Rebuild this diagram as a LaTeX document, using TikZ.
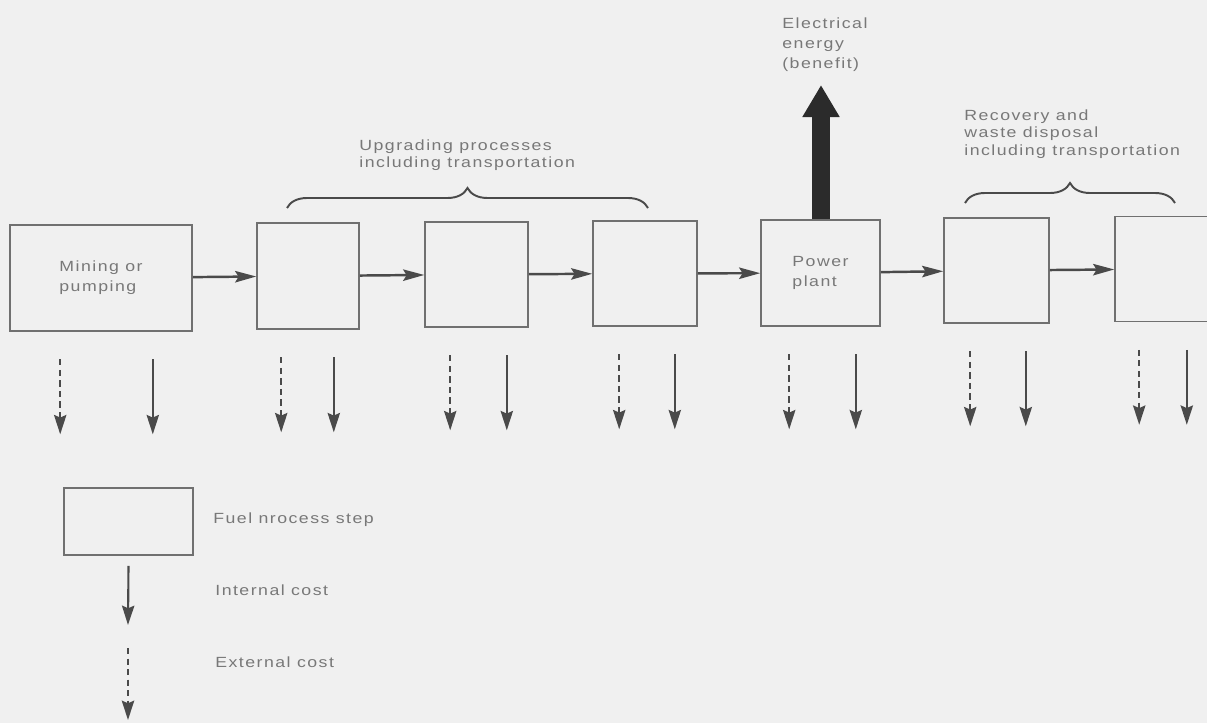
\documentclass[tikz,border=0pt]{standalone}
\usepackage{fontspec}
\setmainfont{Liberation Sans}
\newfontfamily\scanfont[FakeStretch=1.2,LetterSpace=10]{Liberation Sans}
\usepackage{tikz}
\usetikzlibrary{arrows.meta,positioning,calc,decorations.pathreplacing}
\definecolor{fcpaper}{HTML}{F0F0F0}
\definecolor{fcline}{HTML}{4A4A4A}
\definecolor{fcdark}{HTML}{2B2B2B}
\definecolor{fcbox}{HTML}{707070}
\definecolor{fctext}{HTML}{787878}

\begin{document}
\begin{tikzpicture}[
  stepbox/.style={rectangle,draw=fcbox,line width=0.9pt,inner sep=0pt,text=fctext,align=left,font=\scanfont\fontsize{8.4}{11.3}\selectfont},
  lab/.style={font=\scanfont\fontsize{8.4}{10.2}\selectfont,text=fctext,align=left,inner sep=0pt},
  flow/.style={draw=fcline,line width=1.4pt,-{Stealth[length=12pt,width=6.5pt,inset=2pt]}},
  intcost/.style={draw=fcline,line width=1.2pt,-{Stealth[length=11pt,width=7pt,inset=1.5pt]}},
  extcost/.style={intcost,dash pattern=on 3.5pt off 2.5pt},
  grp/.style={draw=fcline,line width=1.1pt,decorate,decoration={brace,amplitude=0.4cm}}]

  % paper
  \useasboundingbox (0,0) rectangle (24.14,-14.46);
  \fill[fcpaper] (0,0) rectangle (24.14,-14.46);
  \clip (0,0) rectangle (24.14,-14.46);

  % fuel chain
  \node[stepbox,minimum width=3.64cm,minimum height=2.12cm] (mine) at (2.02,-5.56) {Mining or\\pumping};
  \node[stepbox,minimum width=2.04cm,minimum height=2.12cm] (up1) at (6.16,-5.52) {};
  \node[stepbox,minimum width=2.06cm,minimum height=2.10cm] (up2) at (9.53,-5.49) {};
  \node[stepbox,minimum width=2.08cm,minimum height=2.10cm] (up3) at (12.90,-5.47) {};
  \node[stepbox,minimum width=2.38cm,minimum height=2.12cm] (pp) at (16.41,-5.46) {Power\\plant};
  \node[stepbox,minimum width=2.10cm,minimum height=2.10cm] (rec1) at (19.93,-5.41) {};
  \node[stepbox,minimum width=2.10cm,minimum height=2.10cm] (rec2) at (23.35,-5.38) {};

  \foreach \a/\b in {mine/up1,up1/up2,up2/up3,up3/pp,pp/rec1,rec1/rec2}
    \draw[flow] (\a) -- (\b);

  % costs below each step
  \foreach \b/\dl/\dr in {mine/1.02/-0.8,up1/0.5/-0.52,up2/0.52/-0.44,up3/0.54/-0.46,pp/0.58/-0.5,rec1/0.54/-0.48,rec2/0.5/-0.68}{
    \draw[extcost] ($(\b.south west)+(\dl,-0.55)$) -- ++(0,-1.5);
    \draw[intcost] ($(\b.south east)+(\dr,-0.55)$) -- ++(0,-1.5);
  }

  % benefit
  \coordinate (benefit) at (16.42,-1.7);
  \draw[fcdark,line width=0.36cm,-{Triangle[length=0.64cm,width=0.7cm]}] (pp.north -| benefit) -- (benefit);
  \node[lab,anchor=north west,font=\scanfont\fontsize{8.4}{11.4}\selectfont] (elec) at (15.64,-0.34) {Electrical\\energy\\(benefit)};

  % groups
  \coordinate (ugL) at (5.74,-4.16);
  \coordinate (ugR) at (12.96,-4.16);
  \draw[grp] (ugL) -- (ugR);
  \node[lab,anchor=north west] (upg) at (7.18,-2.78) {Upgrading processes\\including transportation};

  \coordinate (rcL) at (19.30,-4.06);
  \coordinate (rcR) at (23.50,-4.06);
  \draw[grp] (rcL) -- (rcR);
  \node[lab,anchor=north west] (recv) at (19.28,-2.18) {Recovery and\\waste disposal\\including transportation};

  % key
  \node[stepbox,minimum width=2.58cm,minimum height=1.34cm] (key) at (2.57,-10.43) {};
  \node[lab,anchor=west] (keylab) at (4.26,-10.40) {Fuel nrocess step};
  \coordinate (intend) at (2.56,-12.5);
  \draw[intcost] ($(key.south)+(0,-0.2)$) -- (intend);
  \node[lab,anchor=west] (intlab) at (4.30,-11.80) {Internal cost};
  \draw[extcost] ($(intend)+(0,-0.46)$) -- ++(0,-1.44);
  \node[lab,anchor=west] (extlab) at (4.30,-13.24) {External cost};

\end{tikzpicture}
\end{document}
